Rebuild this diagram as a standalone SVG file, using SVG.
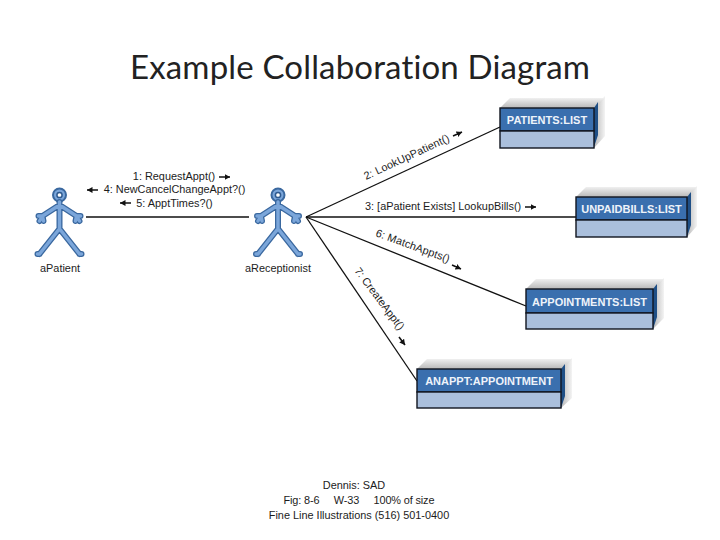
<svg xmlns="http://www.w3.org/2000/svg" width="720" height="540" viewBox="0 0 720 540">
<style>
text{font-family:"Liberation Sans",Arial,sans-serif;fill:#1c1c1c;font-size:10.9px}
.title{font-family:Lato,"Open Sans",sans-serif;font-size:33px;fill:#222;font-variant-ligatures:none}
.name{font-size:11px;font-weight:bold;fill:#eef3fa;text-anchor:middle}
.c{text-anchor:middle}
.line{stroke:#111;stroke-width:1.3;fill:none}
.arrow{stroke:#111;stroke-width:1.5;fill:none;marker-end:url(#h)}
.top{fill:url(#gt)}
.shadow{fill:url(#gs)}
.side{fill:#1f4f86}
.head{fill:#3a6fae;stroke:#10151f;stroke-width:1.4}
.body{fill:#aabfdc;stroke:#10151f;stroke-width:1.4}
.o{stroke:#3a689f;stroke-width:6;fill:none;stroke-linecap:round;stroke-linejoin:round}
.i{stroke:#7ba6da;stroke-width:3.4;fill:none;stroke-linecap:round;stroke-linejoin:round}
</style>
<defs>
<marker id="h" markerUnits="userSpaceOnUse" markerWidth="7" markerHeight="7" refX="5.500" refY="3" orient="auto"><path d="M0 0L5.500 3L0 6Z" fill="#111"/></marker>
<linearGradient id="gt" x1="0" y1="0" x2="0" y2="1"><stop offset="0" stop-color="#f0f0f0"/><stop offset="1" stop-color="#b8b8b8"/></linearGradient>
<linearGradient id="gs" x1="0" y1="0" x2="1" y2="0"><stop offset="0" stop-color="#b8b8b8"/><stop offset="1" stop-color="#f4f4f4"/></linearGradient>
<g id="stick">
<circle cx="0" cy="-22" r="6.500" fill="#7ba6da" stroke="#3a689f" stroke-width="2"/>
<circle cx="0" cy="-22" r="2.600" fill="#fff" stroke="#2f5a8f" stroke-width="1.500"/>
<path class="o" d="M0-15V13M-17-1L0-12L17-1M-1 13L-20 37M1 13L20 37M-20 37h-2M20 37h2M-17-1h-4M-17-1l-3 5M-17-1l1 5M17-1h4M17-1l3 5M17-1l-1 5"/>
<path class="i" d="M0-15V13M-17-1L0-12L17-1M-1 13L-20 37M1 13L20 37M-20 37h-2M20 37h2M-17-1h-4M-17-1l-3 5M-17-1l1 5M17-1h4M17-1l3 5M17-1l-1 5"/>
</g>
</defs>
<text class="title" x="130" y="79" textLength="460">Example Collaboration Diagram</text>
<g id="connectors">
<path class="line" d="M86 217H249"/>
<path class="line" d="M306 217L500 127"/>
<path class="line" d="M306 217H576"/>
<path class="line" d="M306 217L526 306"/>
<path class="line" d="M306 217L417 381"/>
<path class="arrow" d="M219 177H230"/>
<path class="arrow" d="M98 190H87"/>
<path class="arrow" d="M131 203H120"/>
<path class="arrow" d="M453 136L462 132"/>
<path class="arrow" d="M525 207H536"/>
<path class="arrow" d="M452 265L461 269"/>
<path class="arrow" d="M399 337L405 345"/>
</g>
<g id="labels">
<text class="c" x="174" y="180">1: RequestAppt()</text>
<text class="c" x="174.500" y="193">4: NewCancelChangeAppt?()</text>
<text class="c" x="174.500" y="207">5: ApptTimes?()</text>
<text transform="translate(366 180) rotate(-25)" textLength="93">2: LookUpPatient()</text>
<text x="365" y="210">3: [aPatient Exists] LookupBills()</text>
<text transform="translate(375 236) rotate(20)" textLength="78">6: MatchAppts()</text>
<text transform="translate(354 271) rotate(53)" textLength="75">7: CreateAppt()</text>
</g>
<g id="aPatient">
<use href="#stick" x="59.500" y="217"/>
<text class="c" x="60" y="272">aPatient</text>
</g>
<g id="aReceptionist">
<use href="#stick" x="278" y="217"/>
<text class="c" x="278" y="272">aReceptionist</text>
</g>
<g id="patients">
<path class="shadow" d="M594 108L605 96V136L594 148Z"/>
<path class="top" d="M500 108L510 98H605L594 108Z"/>
<path class="side" d="M594 108L598 102V135L594 147Z"/>
<rect class="head" x="500" y="108" width="94" height="23"/>
<rect class="body" x="500" y="131" width="94" height="17"/>
<text class="name" x="547" y="124">PATIENTS:LIST</text>
</g>
<g id="unpaidbills">
<path class="shadow" d="M687 197L697 186V226L687 237Z"/>
<path class="top" d="M576 197L586 187H697L687 197Z"/>
<path class="side" d="M687 197L691 192V225L687 237Z"/>
<rect class="head" x="576" y="197" width="111" height="23"/>
<rect class="body" x="576" y="220" width="111" height="17"/>
<text class="name" x="631.500" y="213">UNPAIDBILLS:LIST</text>
</g>
<g id="appointments">
<path class="shadow" d="M653 289L664 278V318L653 329Z"/>
<path class="top" d="M526 289L536 279H664L653 289Z"/>
<path class="side" d="M653 289L657 284V317L653 329Z"/>
<rect class="head" x="526" y="289" width="127" height="24"/>
<rect class="body" x="526" y="313" width="127" height="16"/>
<text class="name" x="589.500" y="306">APPOINTMENTS:LIST</text>
</g>
<g id="anappt">
<path class="shadow" d="M561 369L572 358V398L561 408Z"/>
<path class="top" d="M417 369L427 359H572L561 369Z"/>
<path class="side" d="M561 369L565 364V396L561 408Z"/>
<rect class="head" x="417" y="369" width="144" height="23"/>
<rect class="body" x="417" y="392" width="144" height="16"/>
<text class="name" x="489" y="385">ANAPPT:APPOINTMENT</text>
</g>
<g id="credits">
<text class="c" x="354" y="489">Dennis: SAD</text>
<text class="c" x="359" y="504" xml:space="preserve" textLength="151">Fig: 8-6     W-33     100% of size</text>
<text class="c" x="359" y="519">Fine Line Illustrations (516) 501-0400</text>
</g>
</svg>
